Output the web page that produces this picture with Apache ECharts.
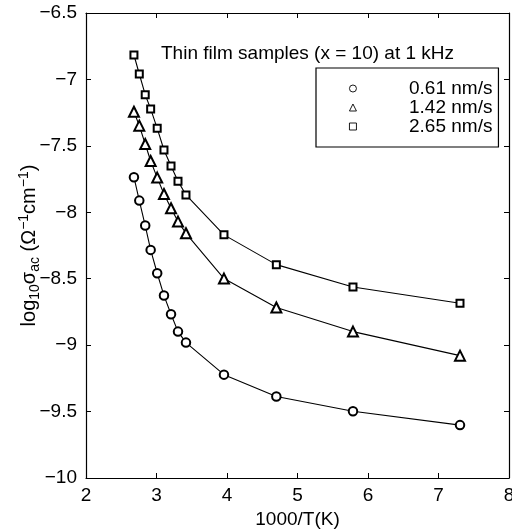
<!DOCTYPE html>
<html><head><meta charset="utf-8">
<script src="https://cdn.jsdelivr.net/npm/echarts@6/dist/echarts.min.js"></script>
<style>html,body{margin:0;padding:0;background:#fff}#c{width:512px;height:531px}</style>
</head><body><div id="c"></div>
<script>
const xValues = [2.68, 2.756, 2.84, 2.917, 3.01, 3.106, 3.206, 3.305, 3.418, 3.957, 4.70, 5.787, 7.305];
const seriesNames = ['0.61 nm/s', '1.42 nm/s', '2.65 nm/s'];
const rate061 = [-7.736, -7.912, -8.100, -8.283, -8.459, -8.627, -8.767, -8.898, -8.981, -9.222, -9.387, -9.497, -9.602];
const rate142 = [-7.243, -7.348, -7.486, -7.614, -7.739, -7.862, -7.970, -8.070, -8.158, -8.499, -8.717, -8.898, -9.079];
const rate265 = [-6.816, -6.959, -7.115, -7.222, -7.368, -7.531, -7.651, -7.766, -7.869, -8.170, -8.394, -8.562, -8.685];
const xTicks = [2, 3, 4, 5, 6, 7, 8];
const yTicks = [-10, -9.5, -9, -8.5, -8, -7.5, -7, -6.5];

const FONT = 'Liberation Sans, Arial, Helvetica, sans-serif';
const FS = 19;
const symbols = ['emptyCircle', 'emptyTriangle', 'emptyRect'];
const sizes = [8.5, 10, 7];
const legendIcons = ['circle', 'triangle', 'rect'];
const allData = [rate061, rate142, rate265];

function pairs(ys) { return xValues.map((x, i) => [x, ys[i]]); }
function fmt(v) { return String(v).replace('-', '\u2212'); }

const chart = echarts.init(document.getElementById('c'), null, {renderer: 'canvas'});
const axisCommon = {
  axisLine: {show: true, onZero: false, lineStyle: {color: '#000', width: 1.2}},
  axisTick: {show: true, inside: true, length: 5, lineStyle: {color: '#000', width: 1}},
  splitLine: {show: false}
};
chart.setOption({
  animation: false,
  backgroundColor: '#fff',
  textStyle: {fontFamily: FONT},
  title: {
    text: 'Thin film samples (x = 10) at 1 kHz',
    left: 156, top: 39,
    textStyle: {fontFamily: FONT, fontSize: FS, fontWeight: 'normal', color: '#000'}
  },
  grid: {left: 86, top: 13, right: 3, bottom: 53, containLabel: false, outerBoundsMode: 'none'},
  legend: {
    orient: 'vertical',
    left: 316, top: 68,
    padding: [11, 6, 11, 33],
    itemGap: 0,
    itemWidth: 7, itemHeight: 7,
    borderColor: '#000', borderWidth: 1.2,
    backgroundColor: '#fff',
    selectedMode: false,
    formatter: n => '{a|' + n + '}',
    textStyle: {
      fontFamily: FONT, fontSize: FS, color: '#000',
      rich: {a: {fontFamily: FONT, fontSize: FS, width: 131, align: 'right', lineHeight: 20.5}}
    },
    data: seriesNames.map((n, i) => ({
      name: n, icon: legendIcons[i],
      itemStyle: {color: 'transparent', borderColor: '#000', borderWidth: 0.9}
    }))
  },
  xAxis: [
    Object.assign({
      type: 'value', min: 2, max: 8, interval: 1, position: 'bottom',
      name: '1000/T(K)', nameLocation: 'middle', nameGap: 32, nameMoveOverlap: false,
      nameTextStyle: {fontFamily: FONT, fontSize: FS, color: '#000'},
      axisLabel: {fontFamily: FONT, fontSize: FS, color: '#000', margin: 8, formatter: v => fmt(v)}
    }, axisCommon),
    Object.assign({
      type: 'value', min: 2, max: 8, interval: 1, position: 'top',
      axisLabel: {show: false}
    }, axisCommon)
  ],
  yAxis: [
    Object.assign({
      type: 'value', min: -10, max: -6.5, interval: 0.5, position: 'left',
      name: '{t|log}{s|10}{t|\u03c3}{s|ac}{t| (\u03a9}{p|\u22121}{t|cm}{p|\u22121}{t|)}',
      nameLocation: 'middle', nameGap: 44, nameRotate: 90, nameMoveOverlap: false,
      nameTextStyle: {
        fontFamily: FONT, fontSize: 20, color: '#000',
        rich: {
          t: {fontFamily: FONT, fontSize: 20, color: '#000'},
          s: {fontFamily: FONT, fontSize: 14, color: '#000', padding: [11, 0, 0, 0]},
          p: {fontFamily: FONT, fontSize: 14, color: '#000', padding: [0, 0, 11, 0]}
        }
      },
      axisLabel: {fontFamily: FONT, fontSize: FS, color: '#000', margin: 9, formatter: v => fmt(v)}
    }, axisCommon),
    Object.assign({
      type: 'value', min: -10, max: -6.5, interval: 0.5, position: 'right',
      axisLabel: {show: false}
    }, axisCommon)
  ],
  series: seriesNames.map((n, i) => ({
    name: n, type: 'line', xAxisIndex: 0, yAxisIndex: 0,
    data: pairs(allData[i]),
    symbol: symbols[i], symbolSize: sizes[i], showAllSymbol: true,
    lineStyle: {color: '#000', width: 1.1},
    itemStyle: {color: '#000', borderColor: '#000', borderWidth: 0.9},
    emphasis: {disabled: true}
  }))
});
</script></body></html>
